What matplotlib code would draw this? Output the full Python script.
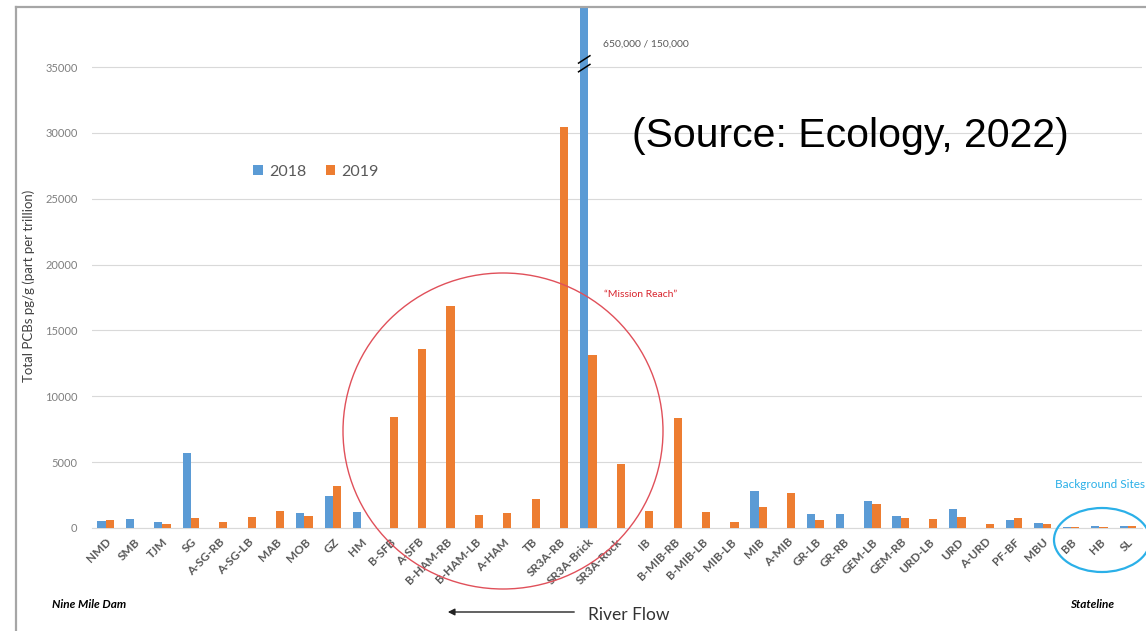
import matplotlib.pyplot as plt
import numpy as np
from matplotlib.patches import Ellipse
from matplotlib.lines import Line2D

# Sampling sites, upstream (right) to downstream (left) as in the source figure.
sites = [
    'NMD', 'SMB', 'TJM', 'SG', 'A-SG-RB', 'A-SG-LB', 'MAB', 'MOB', 'GZ', 'HM',
    'B-SFB', 'A-SFB', 'B-HAM-RB', 'B-HAM-LB', 'A-HAM', 'TB', 'SR3A-RB',
    'SR3A-Brick', 'SR3A-Rock', 'IB', 'B-MIB-RB', 'B-MIB-LB', 'MIB-LB', 'MIB',
    'A-MIB', 'GR-LB', 'GR-RB', 'GEM-LB', 'GEM-RB', 'URD-LB', 'URD', 'A-URD',
    'PF-BF', 'MBU', 'BB', 'HB', 'SL',
]
pcb_2018 = [
    555, 710, 430, 5680, 0, 0, 0, 1140, 2450, 1190,
    0, 0, 0, 0, 0, 0, 0,
    650000, 0, 0, 0, 0, 0, 2800,
    0, 1060, 1060, 2050, 910, 0, 1410, 0,
    580, 350, 70, 180, 130,
]
pcb_2019 = [
    605, 0, 300, 780, 480, 810, 1260, 935, 3160, 0,
    8430, 13590, 16860, 1010, 1140, 2220, 30440,
    13130, 4850, 1290, 8350, 1240, 430, 1590,
    2650, 580, 0, 1820, 760, 680, 810, 280,
    760, 280, 70, 80, 150,
]
years = ['2018', '2019']
yticks = [0, 5000, 10000, 15000, 20000, 25000, 30000, 35000]

BLUE = '#5b9bd5'
ORANGE = '#ed7d31'
GREY = '#595959'

plt.rcParams['font.family'] = ['Lato', 'DejaVu Sans']

W, H = 1146, 631
fig = plt.figure(figsize=(W / 100, H / 100), dpi=100)
ax = fig.add_axes([91.5 / W, 1 - 528 / H, (1142 - 91.5) / W, (528 - 7) / H])

x = np.arange(len(sites))
bw = 0.29
b1 = ax.bar(x - bw / 2, pcb_2018, width=bw, color=BLUE, label=years[0], zorder=3)
b2 = ax.bar(x + bw / 2, pcb_2019, width=bw, color=ORANGE, label=years[1], zorder=3)

ax.set_xlim(-0.5, len(sites) - 0.5)
ax.set_ylim(0, 39560)
ax.set_yticks(yticks)
ax.set_yticklabels([str(v) for v in yticks], fontsize=8, color='#7f7f7f')
ax.set_xticks(x)
ax.set_xticklabels(sites, rotation=45, ha='right', rotation_mode='anchor',
                   fontsize=8.5, color=GREY, fontweight='bold')
ax.tick_params(length=0, pad=6)
ax.tick_params(axis='y', pad=10)
ax.grid(axis='y', color='#d9d9d9', lw=0.8, zorder=0)
for name, sp in ax.spines.items():
    sp.set_visible(name == 'bottom')
ax.spines['bottom'].set_color('#d9d9d9')

ax.set_ylabel('Total PCBs pg/g (part per trillion)', fontsize=9.5, color='#404040')
ax.yaxis.set_label_coords(-0.054, 0.465)

# Axis break on the off-scale bar.
i = sites.index('SR3A-Brick')
xb = i - bw / 2
for dy in (-330, 330):
    ax.plot([xb - 0.2, xb + 0.2], [35250 + dy - 280, 35250 + dy + 280],
            color='black', lw=1.1, zorder=5, clip_on=False)
ax.text(i + 0.5, 36750, '650,000 / 150,000', fontsize=7.5, color=GREY, va='center')

ax.legend(handles=[b1, b2], loc='center', bbox_to_anchor=(316 / W, 1 - 172 / H),
          bbox_transform=fig.transFigure, ncol=2, frameon=False, fontsize=11.5,
          labelcolor=GREY, handlelength=0.6, handleheight=0.6, handletextpad=0.4,
          columnspacing=1.2)

# Annotations.
fig.text(632 / W, 1 - 136 / H, '(Source: Ecology, 2022)', fontsize=29.5,
         family='Liberation Sans', va='center', ha='left', color='black')
fig.text(604 / W, 1 - 294 / H, '\u201cMission Reach\u201d', fontsize=7.5,
         color='#d9262f', va='center')
fig.add_artist(Ellipse((503 / W, 1 - 431 / H), 320 / W, 316 / H, fill=False,
                       edgecolor='#e0505a', lw=1, transform=fig.transFigure))
fig.add_artist(Ellipse((1102 / W, 1 - 540 / H), 96 / W, 64 / H, fill=False,
                       edgecolor='#2bb0e8', lw=1.6, transform=fig.transFigure))
fig.text(1055 / W, 1 - 485 / H, 'Background Sites', fontsize=8.5,
         color='#2bb0e8', va='center')
fig.text(52 / W, 1 - 604 / H, 'Nine Mile Dam', fontsize=8.5, style='italic',
         fontweight='bold', color='black', va='center')
fig.text(1070 / W, 1 - 604 / H, 'Stateline', fontsize=8.5, style='italic',
         fontweight='bold', color='black', va='center')
fig.text(588 / W, 1 - 615 / H, 'River Flow', fontsize=12.5, color='#333333',
         va='center')
ax.annotate('', xy=(445 / W, 1 - 612 / H), xytext=(577 / W, 1 - 612 / H),
            xycoords='figure fraction', textcoords='figure fraction',
            arrowprops=dict(arrowstyle='-|>', color='#222222', lw=1,
                            mutation_scale=10))

# Frame of the original slide chart.
fig.add_artist(Line2D([16 / W, 16 / W], [0, 1 - 7 / H], color='#a6a6a6', lw=1.6,
                      transform=fig.transFigure))
fig.add_artist(Line2D([16 / W, 1], [1 - 7 / H, 1 - 7 / H], color='#a6a6a6', lw=1.6,
                      transform=fig.transFigure))

fig.savefig('out.png', dpi=100)
